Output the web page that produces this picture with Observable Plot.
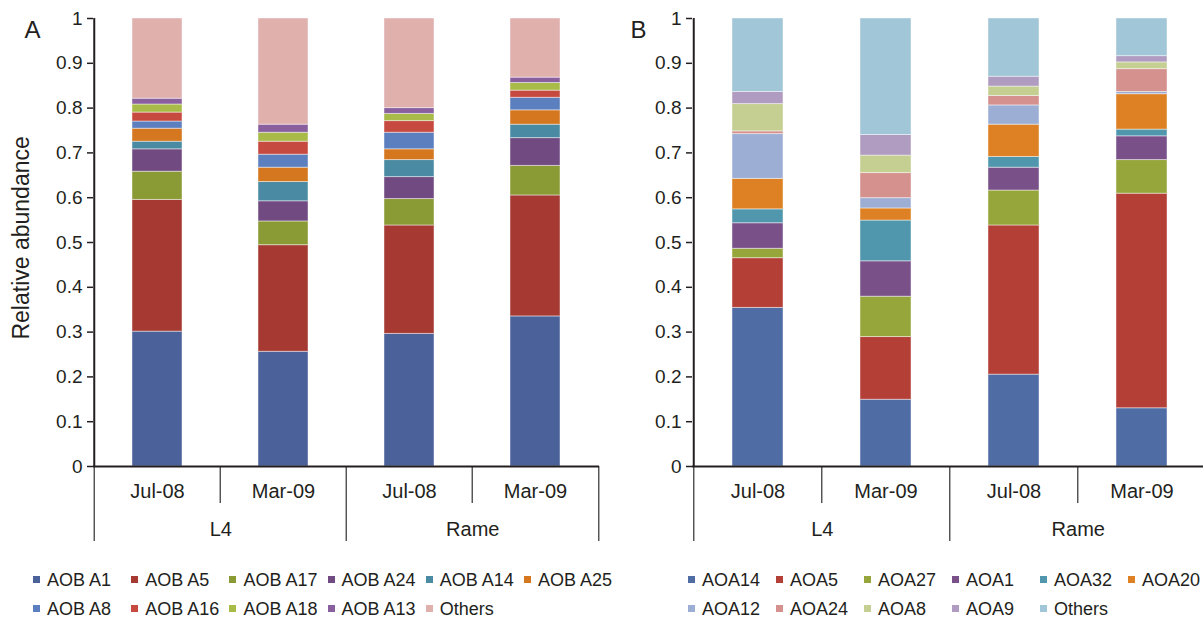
<!DOCTYPE html>
<html>
<head>
<meta charset="utf-8">
<script src="https://cdn.jsdelivr.net/npm/d3@7"></script>
<script src="https://cdn.jsdelivr.net/npm/@observablehq/plot@0.6"></script>
<style>
  html, body { margin: 0; padding: 0; background: #fff; overflow: hidden; }
  #wrap { position: relative; width: 1203px; height: 619px; overflow: hidden;
          font-family: "Liberation Sans", Arial, Helvetica, sans-serif; color: #231f20; }
  #panelA { position: absolute; left: 0; top: 0; width: 601px; }
  #panelB { position: absolute; left: 601px; top: 0; width: 602px; }
  .legend { position: absolute; top: 566px; display: flex; flex-wrap: wrap;
            font-size: 18px; line-height: 28.5px; }
  .legend .item { white-space: nowrap; display: block; }
  .legend .sw { display: inline-block; width: 7px; height: 7px; margin-right: 7px;
                margin-bottom: 3px; vertical-align: baseline; }
</style>
</head>
<body>
<div id="wrap">
  <div id="panelA"></div>
  <div id="panelB"></div>
  <div id="legendA" class="legend"></div>
  <div id="legendB" class="legend"></div>
</div>
<script>
// ---------- data ----------
const sampleSites = ["L4", "L4", "Rame", "Rame"];
const sampleDates = ["Jul-08", "Mar-09", "Jul-08", "Mar-09"];
const yTicks = [0, 0.1, 0.2, 0.3, 0.4, 0.5, 0.6, 0.7, 0.8, 0.9, 1];

// Panel A (AOB), values per sample: L4 Jul-08, L4 Mar-09, Rame Jul-08, Rame Mar-09
const aobSeries = ["AOB A1", "AOB A5", "AOB A17", "AOB A24", "AOB A14", "AOB A25",
                   "AOB A8", "AOB A16", "AOB A18", "AOB A13", "Others"];
const aobA1  = [0.301, 0.256, 0.296, 0.335];
const aobA5  = [0.294, 0.238, 0.242, 0.270];
const aobA17 = [0.063, 0.053, 0.059, 0.066];
const aobA24 = [0.050, 0.045, 0.049, 0.062];
const aobA14 = [0.017, 0.043, 0.038, 0.030];
const aobA25 = [0.029, 0.032, 0.024, 0.032];
const aobA8  = [0.016, 0.029, 0.037, 0.028];
const aobA16 = [0.020, 0.029, 0.026, 0.016];
const aobA18 = [0.018, 0.020, 0.016, 0.017];
const aobA13 = [0.013, 0.018, 0.013, 0.012];
const aobOthers = [0.179, 0.237, 0.200, 0.132];
const aobColors = ["#4a6199", "#a63a33", "#8a9a35", "#704a80", "#4a8ba3", "#d4771f",
                   "#5b7fbf", "#c74a40", "#a8bb48", "#8a5f9e", "#e0b0ad"];

// Panel B (AOA)
const aoaSeries = ["AOA14", "AOA5", "AOA27", "AOA1", "AOA32", "AOA20",
                   "AOA12", "AOA24", "AOA8", "AOA9", "Others"];
const aoa14 = [0.354, 0.149, 0.205, 0.130];
const aoa5  = [0.111, 0.140, 0.333, 0.479];
const aoa27 = [0.021, 0.090, 0.078, 0.075];
const aoa1  = [0.057, 0.079, 0.051, 0.053];
const aoa32 = [0.031, 0.091, 0.024, 0.015];
const aoa20 = [0.068, 0.027, 0.072, 0.079];
const aoa12 = [0.100, 0.023, 0.043, 0.005];
const aoa24 = [0.006, 0.056, 0.021, 0.051];
const aoa8  = [0.061, 0.039, 0.021, 0.015];
const aoa9  = [0.027, 0.046, 0.022, 0.014];
const aoaOthers = [0.164, 0.260, 0.130, 0.084];
const aoaColors = ["#506ca5", "#b43f36", "#96a63a", "#7a5089", "#5097ae", "#de8024",
                   "#9daed5", "#d4918d", "#c4cf91", "#b09cc0", "#a0c6d8"];

const aobValues = [aobA1, aobA5, aobA17, aobA24, aobA14, aobA25, aobA8, aobA16, aobA18, aobA13, aobOthers];
const aoaValues = [aoa14, aoa5, aoa27, aoa1, aoa32, aoa20, aoa12, aoa24, aoa8, aoa9, aoaOthers];

// ---------- chart ----------
const ink = "#231f20";
const sepInk = "#4d4d4d";
const samples = sampleSites.map((s, i) => s + " " + sampleDates[i]);

function panel({series, values, colors, letter, letterDx, yTitle, marginLeft, slot, width}) {
  const rows = [];
  series.forEach((s, i) => samples.forEach((k, j) => rows.push({sample: k, series: s, value: values[i][j]})));
  const H = 565, top = 18, zeroPx = 466;
  const pxPerUnit = zeroPx - top;
  const below = px => -px / pxPerUnit;
  const right = marginLeft + slot * samples.length;
  const half = slot / 2;
  const sites = Array.from(new Set(sampleSites));
  const firstOfSite = sites.map(s => samples[sampleSites.indexOf(s)]);
  const dateSeps = samples.filter((k, i) => i > 0 && sampleSites[i] === sampleSites[i - 1]);
  const groupSeps = firstOfSite;
  const marks = [
    Plot.barY(rows, {x: "sample", y: "value", fill: "series", stroke: "#fff", strokeOpacity: 0.45, strokeWidth: 1}),
    Plot.axisY({ticks: yTicks, tickFormat: d => d3.format("~g")(d), tickSize: 6, tickPadding: 5,
                fontSize: 19, label: null, strokeWidth: 1.5, stroke: ink, fill: ink}),
    Plot.ruleX([samples[0]], {dx: -half, y1: 0, y2: 1, stroke: ink, strokeWidth: 2}),
    Plot.ruleX(dateSeps, {x: d => d, dx: -half, y1: 0, y2: below(37), stroke: sepInk, strokeWidth: 1.4}),
    Plot.ruleX(groupSeps, {x: d => d, dx: -half, y1: 0, y2: below(75), stroke: sepInk, strokeWidth: 1.4}),
    Plot.ruleX([samples[samples.length - 1]], {dx: half, y1: 0, y2: below(75), stroke: sepInk, strokeWidth: 1.4}),
    Plot.ruleY([0], {stroke: ink, strokeWidth: 2}),
    Plot.text(samples, {x: d => d, y: below(24.9), text: (d, i) => sampleDates[i], fontSize: 20, fill: ink}),
    Plot.text(sites, {x: (d, i) => firstOfSite[i], dx: half, y: below(62.6), text: d => d, fontSize: 20, fill: ink}),
    Plot.text([letter], {frameAnchor: "top-left", lineAnchor: "top", textAnchor: "start",
                         dx: letterDx, dy: 2, fontSize: 24, fill: ink})
  ];
  if (yTitle) {
    marks.push(Plot.text([yTitle], {frameAnchor: "left", rotate: -90, textAnchor: "middle", lineAnchor: "middle",
                                    dx: -72, dy: -4.6, fontSize: 23, fill: ink}));
  }
  return Plot.plot({
    width, height: H,
    marginTop: top, marginBottom: H - zeroPx, marginLeft, marginRight: width - right,
    style: {fontFamily: '"Liberation Sans", Arial, Helvetica, sans-serif', color: ink, background: "transparent"},
    x: {domain: samples, paddingInner: 0.605, paddingOuter: 0.3025, axis: null},
    y: {domain: [0, 1], axis: null},
    color: {domain: series, range: colors},
    marks
  });
}

document.getElementById("panelA").append(panel({
  series: aobSeries, values: aobValues, colors: aobColors, letter: "A", letterDx: -69,
  yTitle: "Relative abundance", marginLeft: 93, slot: 126.5, width: 601
}));
document.getElementById("panelB").append(panel({
  series: aoaSeries, values: aoaValues, colors: aoaColors, letter: "B", letterDx: -62,
  yTitle: null, marginLeft: 91, slot: 128.5, width: 602
}));

function legend(id, names, colors, left, itemWidth) {
  const node = document.getElementById(id);
  node.style.left = left + "px";
  node.style.width = (itemWidth * 6 + 1) + "px";
  names.forEach((n, i) => {
    const item = document.createElement("span");
    item.className = "item";
    item.style.width = itemWidth + "px";
    const sw = document.createElement("span");
    sw.className = "sw";
    sw.style.background = colors[i];
    item.append(sw, document.createTextNode(n));
    node.append(item);
  });
}
legend("legendA", aobSeries, aobColors, 33, 98.2);
legend("legendB", aoaSeries, aoaColors, 688, 88);
</script>
</body>
</html>
